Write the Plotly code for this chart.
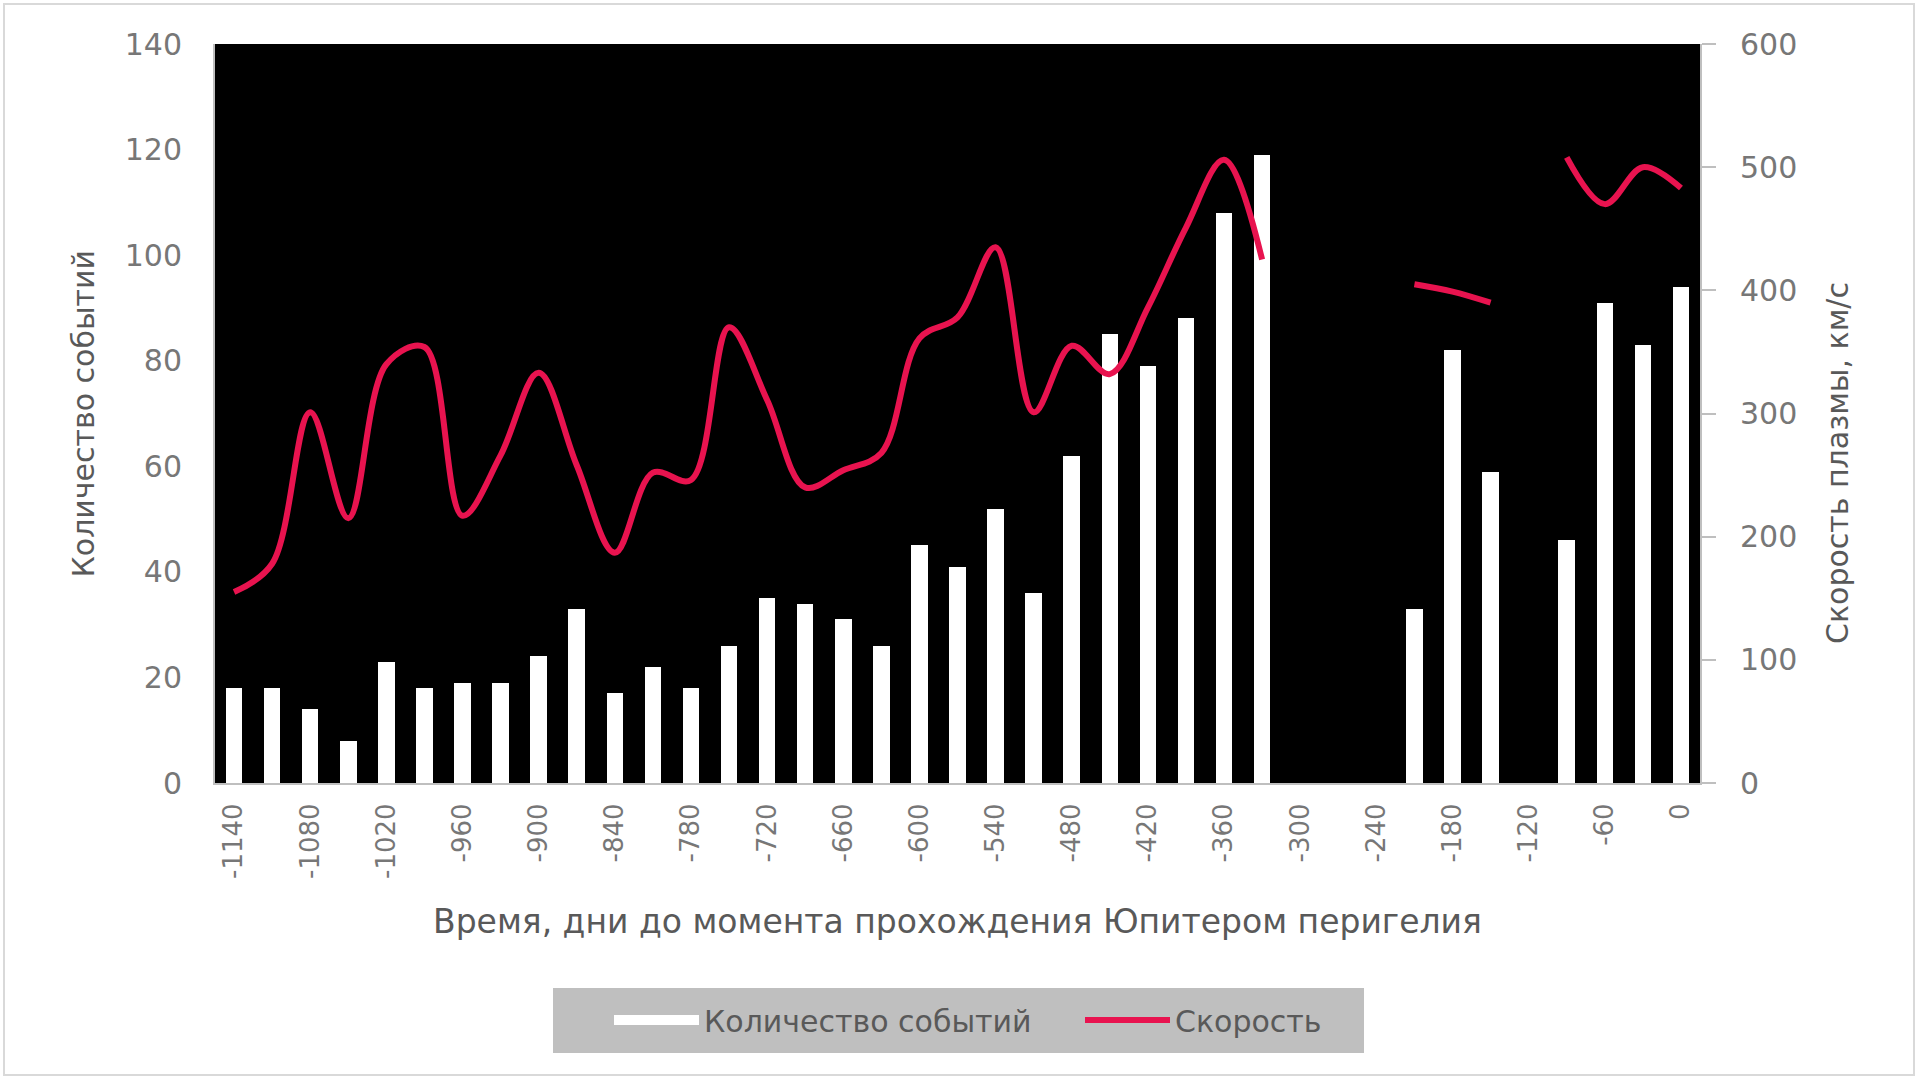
import plotly.graph_objects as go

days = list(range(-1140, 1, 30))
counts = [18, 18, 14, 8, 23, 18, 19, 19, 24, 33, 17, 22, 18, 26, 35, 34, 31, 26, 45, 41,
          52, 36, 62, 85, 79, 88, 108, 119, None, None, None, 33, 82, 59, None, 46, 91, 83, 94]
speed = [155, 178, 301, 215, 340, 354, 217, 266, 333, 258, 187, 252, 246, 370, 311, 240, 254, 268,
         361, 378, 435, 301, 355, 332, 386, 451, 506, 425, None, None, None, 405, 399, 390, None,
         508, 470, 500, 483]
tick_vals = list(range(-1140, 1, 60))
tick_text = [str(v) for v in tick_vals]

W, H = 1920, 1080
L, R, T, B = 215, 220, 44, 297
pw, ph = W - L - R, H - T - B

def px(x):
    return (x - L) / pw

def py(y):
    return (H - B - y) / ph

FONT = "DejaVu Sans"
TICK = "#777777"
TITLE = "#595959"
RED = "#E8134F"

fig = go.Figure()
fig.add_trace(go.Bar(x=days, y=counts, name="Количество событий", legendgroup="counts", showlegend=False,
                     marker=dict(color="white", line=dict(width=0)), width=13, yaxis="y"))
# legend entry for the bars drawn as a wide white block (as in the original legend)
fig.add_trace(go.Scatter(x=[None], y=[None], name="Количество событий", legendgroup="counts", mode="lines",
                         line=dict(color="white", width=20), yaxis="y", hoverinfo="skip"))
fig.add_trace(go.Scatter(x=days, y=speed, name="Скорость", mode="lines", yaxis="y2",
                         line=dict(color=RED, width=6, shape="spline", smoothing=1.0),
                         connectgaps=False))

fig.update_layout(
    width=W, height=H,
    margin=dict(l=L, r=R, t=T, b=B),
    paper_bgcolor="white", plot_bgcolor="black",
    font=dict(family=FONT, color=TICK),
    showlegend=True,
    bargap=0,
    xaxis=dict(range=[-1155, 15], tickvals=tick_vals, ticktext=tick_text, tickangle=-90,
               tickfont=dict(size=26, color=TICK), showgrid=False, zeroline=False,
               showline=True, linecolor="#bfbfbf", linewidth=2, ticks="", ticklabelstandoff=8),
    yaxis=dict(range=[0, 140], dtick=20, tickfont=dict(size=30, color=TICK), showgrid=False,
               zeroline=False, showline=True, linecolor="#bfbfbf", linewidth=2, ticks="",
               ticklabelstandoff=25),
    yaxis2=dict(range=[0, 600], dtick=100, overlaying="y", side="right", tickfont=dict(size=30, color=TICK),
                showgrid=False, zeroline=False, showline=True, linecolor="#bfbfbf", linewidth=2,
                ticks="outside", ticklen=14, tickcolor="#bfbfbf", tickwidth=2, ticklabelstandoff=18),
    legend=dict(orientation="h", x=px(609), xanchor="left", y=py(1020), yanchor="middle",
                bgcolor="rgba(0,0,0,0)", borderwidth=0,
                font=dict(size=30, color=TITLE), itemwidth=85,
                entrywidth=371, traceorder="normal"),
    annotations=[
        dict(text="Время, дни до момента прохождения Юпитером перигелия", xref="paper", yref="paper",
             x=0.5, y=py(921), xanchor="center", yanchor="middle", showarrow=False,
             font=dict(size=33, color=TITLE, family=FONT)),
        dict(text="Количество событий", xref="paper", yref="paper", x=px(83), y=0.5, textangle=-90,
             xanchor="center", yanchor="middle", showarrow=False, font=dict(size=30, color=TITLE, family=FONT)),
        dict(text="Скорость плазмы, км/с", xref="paper", yref="paper", x=px(1837), y=py(463), textangle=-90,
             xanchor="center", yanchor="middle", showarrow=False, font=dict(size=30, color=TITLE, family=FONT)),
    ],
    shapes=[
        dict(type="rect", xref="paper", yref="paper", x0=px(4), x1=px(1914), y0=py(1075), y1=py(4),
             line=dict(color="#d9d9d9", width=2), fillcolor="rgba(0,0,0,0)", layer="below"),
        # legend background panel
        dict(type="rect", xref="paper", yref="paper", x0=px(553), x1=px(1364), y0=py(1053), y1=py(988),
             line=dict(width=0), fillcolor="#bfbfbf", layer="below"),
    ],
)

fig.write_html("out.html", config={"displayModeBar": False},
               post_script="document.body.style.margin='0';document.body.style.overflow='hidden';")
